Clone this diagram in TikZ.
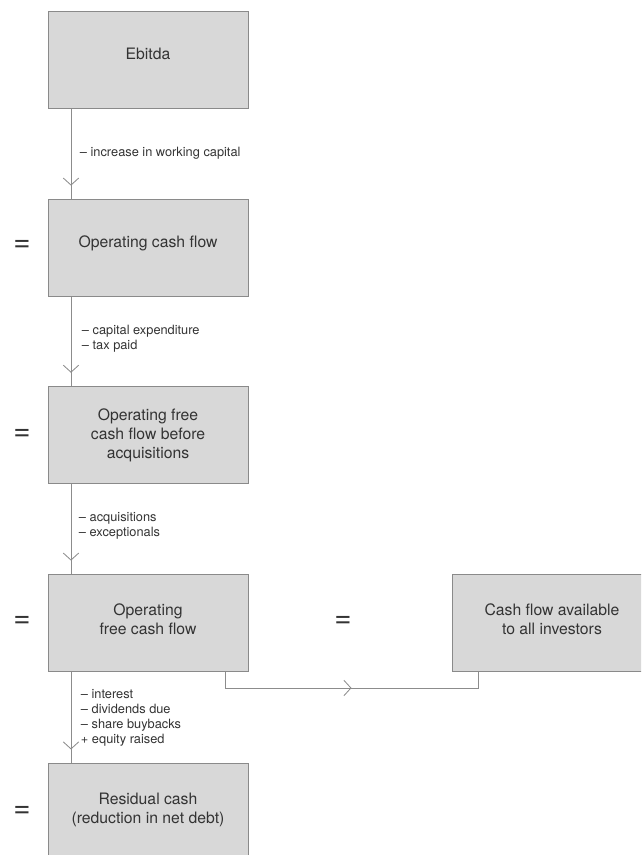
\documentclass[tikz,border=0pt]{standalone}
\usepackage{fontspec}
\setmainfont{TeX Gyre Heros}
\usetikzlibrary{arrows.meta,decorations.markings}

\definecolor{boxfill}{HTML}{D8D8D8}
\definecolor{boxline}{HTML}{8A8A8A}
\definecolor{flowline}{HTML}{8C8C8C}
\definecolor{txt}{HTML}{333333}

\begin{document}
\begin{tikzpicture}[x=0.025cm, y=-0.025cm,
	box/.style={draw=boxline, fill=boxfill, line width=0.6pt, minimum width=5cm, minimum height=2.42cm, align=center, text=txt, font=\fontsize{11.2}{13.6}\selectfont},
	lift/.style={text depth=#1},
	note/.style={anchor=west, align=left, text=txt, font=\fontsize{9.1}{10.7}\selectfont},
	eqsign/.style={text=txt, font=\fontsize{21}{21}\selectfont},
	flow/.style={draw=flowline, line width=0.6pt, postaction={decorate}, decoration={markings, mark=at position #1 with {\arrow{Straight Barb[length=5pt, width=11pt]}}}},
	flow/.default=0.85]

		\useasboundingbox(0, 0) rectangle (641, 855);
		\clip(0, 0) rectangle (641, 855);

		% boxes
		\node[box, lift=0.3cm] (ebitda) at(148, 60){Ebitda};
		\node[box, lift=0.3cm] (ocf) at(148, 248){Operating cash flow};
		\node[box] (ofcfba) at(148, 435){Operating free\\cash flow before\\acquisitions};
		\node[box, lift=0.2cm] (ofcf) at(148, 623){Operating\\free cash flow};
		\node[box, lift=0.2cm] (resid) at(148, 812){Residual cash\\(reduction in net debt)};
		\node[box, lift=0.2cm] (cfai) at(552, 623){Cash flow available\\to all investors};

		% equals signs
		\node[eqsign] (eq1) at(22, 246){=};
		\node[eqsign] (eq2) at(22, 435){=};
		\node[eqsign] (eq3) at(22, 622){=};
		\node[eqsign] (eq4) at(22, 812){=};
		\node[eqsign] (eq5) at(343, 622){=};

		% connectors
		\coordinate (spine) at(71, 0);
		\draw[flow](ebitda.south -| spine) -- (ocf.north -| spine);
		\draw[flow](ocf.south -| spine) -- (ofcfba.north -| spine);
		\draw[flow](ofcfba.south -| spine) -- (ofcf.north -| spine);
		\draw[flow](ofcf.south -| spine) -- (resid.north -| spine);

		\coordinate (dropL) at(225, 688);
		\coordinate (dropR) at(478, 688);
		\draw[flow=0.5](ofcf.south -| dropL) -- (dropL) -- (dropR) -- (cfai.south -| dropR);

		% adjustments
		\node[note] (adj1) at(75, 153){– increase in working capital};
		\node[note] (adj2) at(77, 338.5){– capital expenditure\\– tax paid};
		\node[note] (adj3) at(74, 525.5){– acquisitions\\– exceptionals};
		\node[note] (adj4) at(76, 717.5){– interest\\– dividends due\\– share buybacks\\+ equity raised};

	\end{tikzpicture}
\end{document}
